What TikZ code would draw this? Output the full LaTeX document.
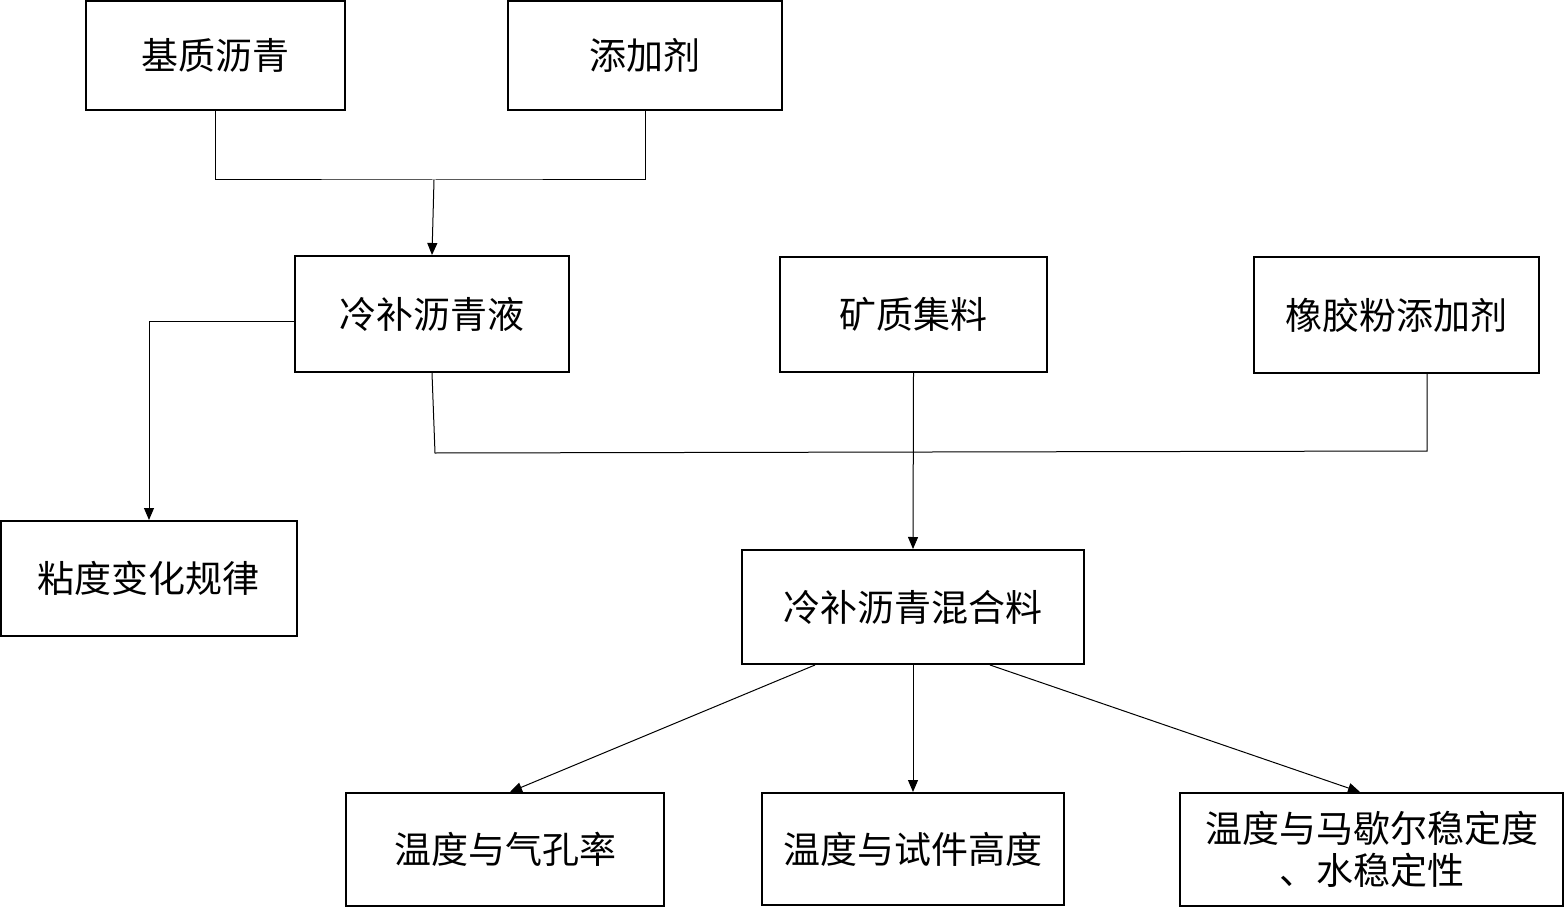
\documentclass[tikz,border=0pt]{standalone}
\usepackage{fontspec}
\setmainfont{Noto Sans CJK SC}
\usetikzlibrary{arrows.meta}
\begin{document}
\begin{tikzpicture}[x=0.5pt,y=-0.5pt,
  box/.style={draw=black,line width=1pt,inner sep=0pt,align=center,
    font=\fontsize{18.5}{21}\selectfont},
  conn/.style={draw=black,line width=0.5pt},
  arr/.style={conn,-{Triangle[length=6pt,width=5pt]}}]
\useasboundingbox (0,0) rectangle (1564,915);
\node[box,minimum width=129.5pt,minimum height=54.5pt] (A) at (215.5,55.5) {基质沥青};
\node[box,minimum width=137pt,minimum height=54.5pt] (B) at (645,55.5) {添加剂};
\node[box,minimum width=137pt,minimum height=58pt] (C) at (432,314) {冷补沥青液};
\node[box,minimum width=133.5pt,minimum height=57.5pt] (D) at (913.5,314.5) {矿质集料};
\node[box,minimum width=142.5pt,minimum height=58pt] (E) at (1396.5,315) {橡胶粉添加剂};
\node[box,minimum width=148pt,minimum height=57.5pt] (F) at (149,578.5) {粘度变化规律};
\node[box,minimum width=171pt,minimum height=57pt] (G) at (913,607) {冷补沥青混合料};
\node[box,minimum width=159pt,minimum height=56.5pt] (H) at (505,849.5) {温度与气孔率};
\node[box,minimum width=151pt,minimum height=56pt] (I) at (913,849) {温度与试件高度};
\node[box,minimum width=191.5pt,minimum height=56.5pt] (J) at (1371.5,849.5) {温度与马歇尔稳定度\\、水稳定性};
\coordinate (j1) at (434,180);
\coordinate (j2) at (435,453);
\coordinate (j3) at (1427,451);
\draw[conn] (A.south) |- (j1) -| (B.south);
\draw[arr] (j1) -- (C.north);
\draw[arr] ([yshift=-3.5pt]C.west) -| (F.north);
\draw[conn] (C.south) -- (j2) -- (j3) -- (j3 |- E.south);
\draw[arr] (D.south) -- (G.north);
\draw[arr] ([xshift=-49pt]G.south) -- ([xshift=2.5pt]H.north);
\draw[arr] (G.south) -- (I.north);
\draw[arr] ([xshift=38.5pt]G.south) -- ([xshift=-5.75pt]J.north);
\end{tikzpicture}
\end{document}
